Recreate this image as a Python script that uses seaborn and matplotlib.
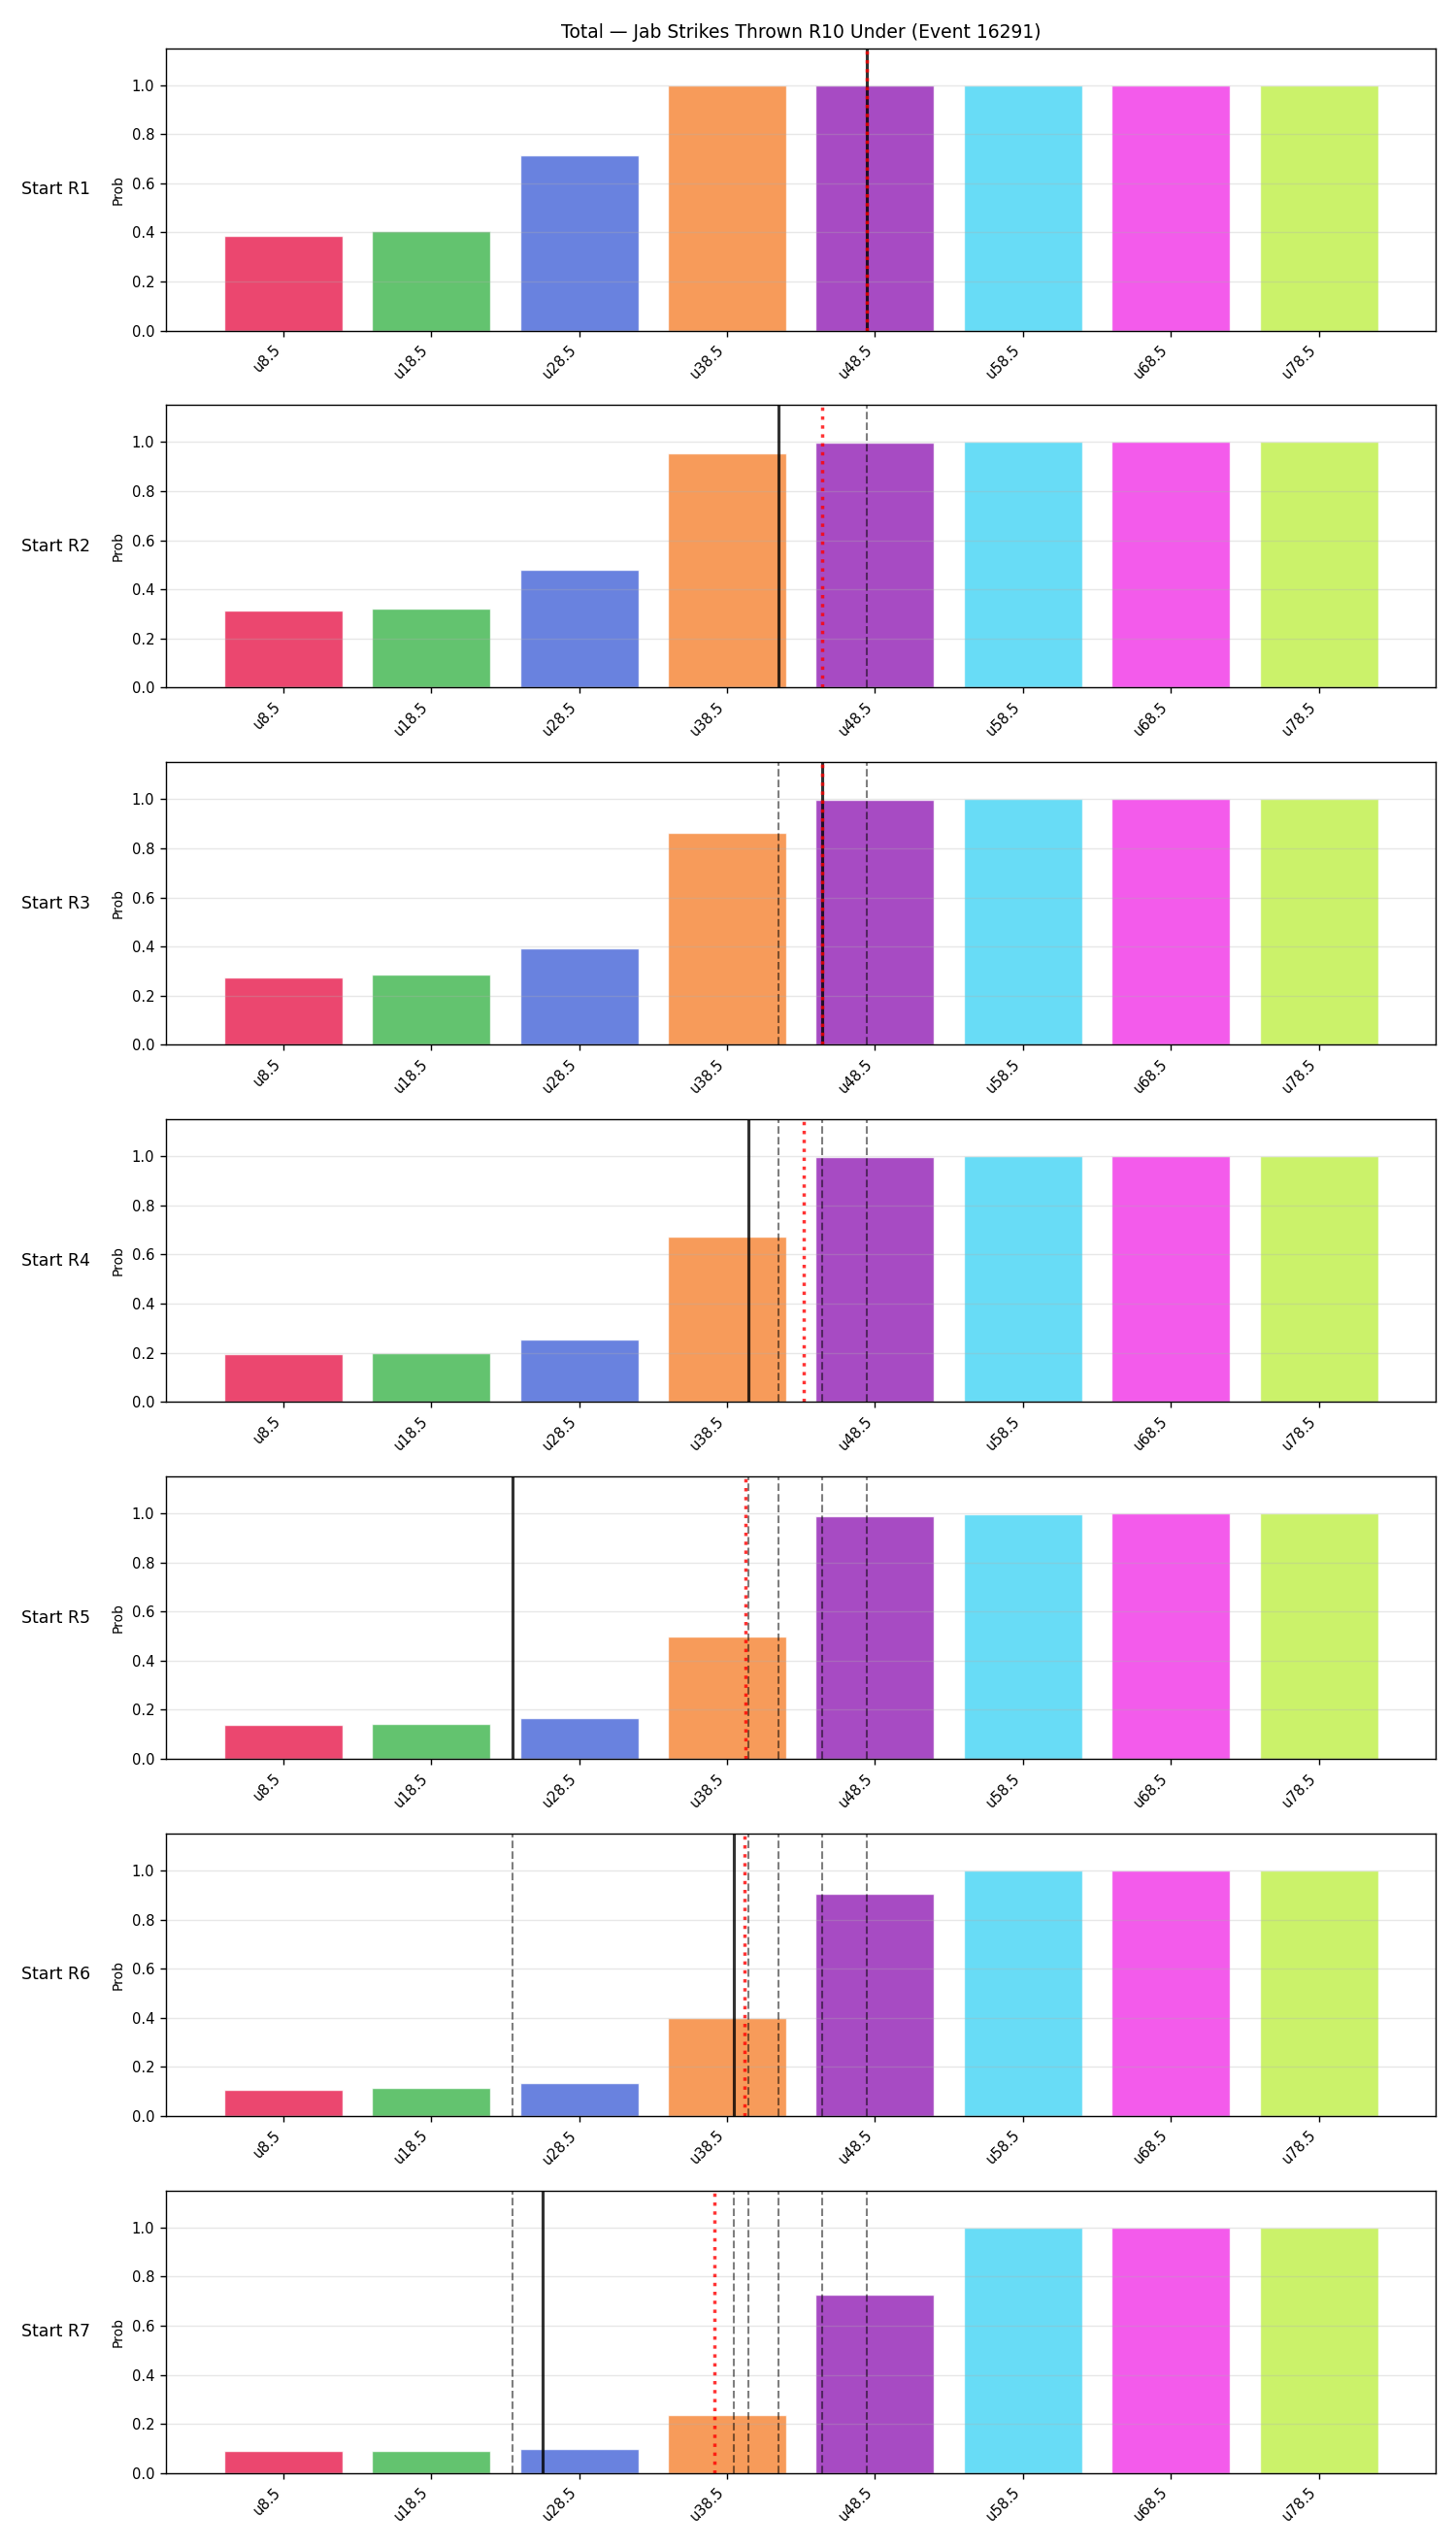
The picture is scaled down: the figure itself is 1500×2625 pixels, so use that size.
import seaborn as sns
import matplotlib.pyplot as plt

# thresholds (x categories) and bar colours
lines = ['u8.5', 'u18.5', 'u28.5', 'u38.5', 'u48.5', 'u58.5', 'u68.5', 'u78.5']
colors = ['#e6194b', '#3cb44b', '#4363d8', '#f58231',
          '#911eb4', '#42d4f4', '#f032e6', '#bfef45']
rounds = ['Start R1', 'Start R2', 'Start R3', 'Start R4',
          'Start R5', 'Start R6', 'Start R7']

# under-probabilities per starting round
probs_r1 = [0.387, 0.407, 0.713, 1.0, 1.0, 1.0, 1.0, 1.0]
probs_r2 = [0.314, 0.321, 0.481, 0.953, 0.999, 1.0, 1.0, 1.0]
probs_r3 = [0.274, 0.284, 0.393, 0.862, 0.997, 1.0, 1.0, 1.0]
probs_r4 = [0.196, 0.200, 0.252, 0.672, 0.997, 1.0, 1.0, 1.0]
probs_r5 = [0.139, 0.142, 0.165, 0.497, 0.989, 0.998, 1.0, 1.0]
probs_r6 = [0.106, 0.114, 0.134, 0.400, 0.906, 0.998, 1.0, 1.0]
probs_r7 = [0.090, 0.090, 0.098, 0.236, 0.728, 0.998, 1.0, 1.0]
probs = [probs_r1, probs_r2, probs_r3, probs_r4, probs_r5, probs_r6, probs_r7]

# marker positions on the category axis
current_pos = [3.945, 3.347, 3.645, 3.144, 1.552, 3.046, 1.752]
model_pos = [3.945, 3.645, 3.645, 3.520, 3.127, 3.115, 2.917]

fig, axes = plt.subplots(7, 1, figsize=(12, 21), dpi=125)
fig.subplots_adjust(left=0.1143, right=0.986, top=0.9811, bottom=0.0294, hspace=0.2646)

for i, ax in enumerate(axes):
    sns.barplot(x=lines, y=probs[i], hue=lines, palette=colors, legend=False,
                saturation=1, alpha=0.8, edgecolor='white', linewidth=0.8, ax=ax)
    # earlier rounds' markers
    for prev in current_pos[:i]:
        ax.axvline(prev, color='k', ls='--', lw=1.2, alpha=0.5)
    ax.axvline(current_pos[i], color='k', lw=1.8, alpha=0.8)
    ax.axvline(model_pos[i], color='red', ls=':', lw=2.0, alpha=0.8)

    ax.set_xlim(-0.79, 7.79)
    ax.set_ylim(0, 1.15)
    ax.grid(axis='y', alpha=0.3)
    ax.set_ylabel('Prob', fontsize=8)
    ax.tick_params(labelsize=8.5)
    plt.setp(ax.get_xticklabels(), rotation=45, ha='right')
    ax.text(-0.06, 0.5, rounds[i], transform=ax.transAxes,
            ha='right', va='center', fontsize=10)

axes[0].set_title('Total — Jab Strikes Thrown R10 Under (Event 16291)', fontsize=10.8)

fig.savefig('out.png', dpi=125)
